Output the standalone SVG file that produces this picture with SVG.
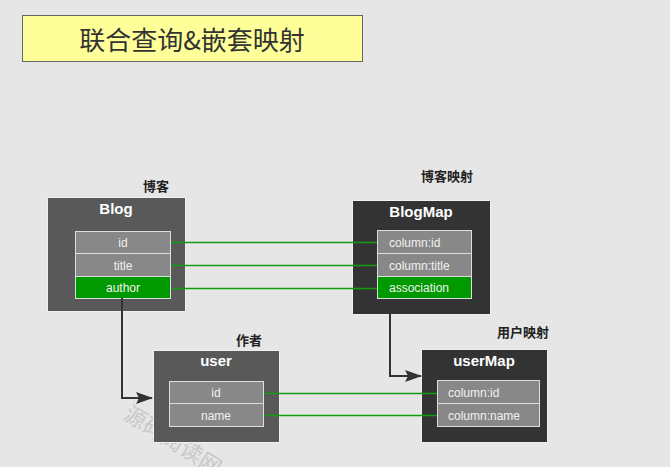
<svg xmlns="http://www.w3.org/2000/svg" width="670" height="467" viewBox="0 0 670 467">
<defs>
<marker id="arr" markerWidth="17" markerHeight="12" refX="16" refY="6" orient="auto" markerUnits="userSpaceOnUse">
<path d="M0,0 L17,6 L0,12 L3,6 Z" fill="#333"/>
</marker>
<style>
.cap{font-family:"Liberation Sans","Noto Sans CJK SC",sans-serif;font-size:13px;fill:#222;font-weight:bold;}
.ttl{font-family:"Liberation Sans",sans-serif;font-size:15px;fill:#fff;font-weight:bold;text-anchor:middle;}
.row{fill:#888;stroke:#ddd;stroke-width:1;}
.grn{fill:#009900;stroke:#ddd;stroke-width:1;}
.rt{font-family:"Liberation Sans",sans-serif;font-size:12px;fill:#f2f2f2;}
.mid{text-anchor:middle;}
.box1{fill:#595959;stroke:#f0f0f0;stroke-width:1;}
.box2{fill:#333;stroke:#f0f0f0;stroke-width:1;}
.lk{stroke:#139c13;stroke-width:1.4;fill:none;}
.ar{stroke:#333;stroke-width:2;fill:none;}
</style>
</defs>
<rect width="670" height="467" fill="#e6e6e6"/>
<text x="122" y="418" transform="rotate(32 122 418)" font-family="'Noto Sans CJK SC',sans-serif" font-size="22" fill="#c8c8c8">源码阅读网</text>
<g id="title">
<rect x="22.5" y="15.5" width="340" height="46" fill="#ffff99" stroke="#666" stroke-width="1"/>
<text x="192" y="50" text-anchor="middle" font-family="'Noto Sans CJK SC',sans-serif" font-size="26" fill="#333">联合查询&amp;嵌套映射</text>
</g>
<g id="blog">
<text class="cap" x="143" y="191">博客</text>
<rect class="box1" x="47.5" y="197.5" width="138" height="114"/>
<text class="ttl" x="116" y="214">Blog</text>
<rect class="row" x="75.5" y="231.5" width="95" height="22"/>
<text class="rt mid" x="123" y="247">id</text>
<rect class="row" x="75.5" y="253.5" width="95" height="23"/>
<text class="rt mid" x="123" y="270">title</text>
<rect class="grn" x="75.5" y="276.5" width="95" height="22"/>
<text class="rt mid" x="123" y="292">author</text>
</g>
<g id="blogmap">
<text class="cap" x="421" y="181">博客映射</text>
<rect class="box2" x="352.5" y="200.5" width="138" height="114"/>
<text class="ttl" x="421" y="217">BlogMap</text>
<rect class="row" x="377.5" y="230.5" width="94" height="23"/>
<text class="rt" x="389" y="247">column:id</text>
<rect class="row" x="377.5" y="253.5" width="94" height="23"/>
<text class="rt" x="389" y="270">column:title</text>
<rect class="grn" x="377.5" y="276.5" width="94" height="22"/>
<text class="rt" x="389" y="292">association</text>
</g>
<g id="user">
<text class="cap" x="236" y="345">作者</text>
<rect class="box1" x="153.5" y="350.5" width="126" height="92"/>
<text class="ttl" x="216" y="366">user</text>
<rect class="row" x="169.5" y="381.5" width="94" height="22"/>
<text class="rt mid" x="216" y="397">id</text>
<rect class="row" x="169.5" y="403.5" width="94" height="23"/>
<text class="rt mid" x="216" y="420">name</text>
</g>
<g id="usermap">
<text class="cap" x="497" y="337">用户映射</text>
<rect class="box2" x="421.5" y="349.5" width="126" height="93"/>
<text class="ttl" x="484" y="366">userMap</text>
<rect class="row" x="437.5" y="380.5" width="102" height="23"/>
<text class="rt" x="448" y="397">column:id</text>
<rect class="row" x="437.5" y="403.5" width="102" height="23"/>
<text class="rt" x="448" y="420">column:name</text>
</g>
<g id="connectors">
<line class="lk" x1="171" y1="242.5" x2="377" y2="242.5"/>
<line class="lk" x1="171" y1="265.5" x2="377" y2="265.5"/>
<line class="lk" x1="171" y1="288.5" x2="377" y2="288.5"/>
<line class="lk" x1="264" y1="393.5" x2="437" y2="393.5"/>
<line class="lk" x1="264" y1="415.5" x2="437" y2="415.5"/>
<path class="ar" d="M122,298 V398 H152" marker-end="url(#arr)"/>
<path class="ar" d="M390,314 V376 H421" marker-end="url(#arr)"/>
</g>
</svg>
